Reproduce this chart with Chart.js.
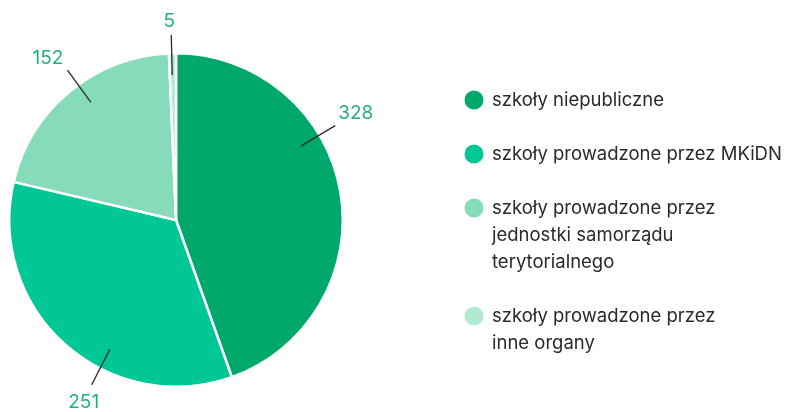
<!DOCTYPE html>
<html>
<head>
<meta charset="utf-8">
<script src="https://cdn.jsdelivr.net/npm/chart.js@4"></script>
<style>
  html, body { margin: 0; padding: 0; background: #fff; }
  #wrap { width: 785px; height: 412px; position: relative; }
</style>
</head>
<body>
<div id="wrap"><canvas id="chart" width="785" height="412"></canvas></div>
<script>
// Data
const categories = [
    ['szkoły niepubliczne'],
    ['szkoły prowadzone przez MKiDN'],
    ['szkoły prowadzone przez', 'jednostki samorządu', 'terytorialnego'],
    ['szkoły prowadzone przez', 'inne organy']
];
const values = [328, 251, 152, 5];
const colors = ['#00a86b', '#00c795', '#86dcba', '#b2e9d3'];

const FONT = 'Inter, "Noto Sans", sans-serif';

// Leader lines + value labels
const calloutPlugin = {
    id: 'callouts',
    afterDatasetsDraw(chart, args, opts) {
        const ctx = chart.ctx;
        const meta = chart.getDatasetMeta(0);
        ctx.save();
        meta.data.forEach((arc, i) => {
            const p = arc.getProps(['x', 'y', 'startAngle', 'endAngle', 'outerRadius'], true);
            const a = p.startAngle + (p.endAngle - p.startAngle) * opts.fractions[i];
            const dx = Math.cos(a), dy = Math.sin(a);
            const r1 = p.outerRadius * 0.87, r2 = p.outerRadius * 1.11;
            const ex = p.x + dx * r2, ey = p.y + dy * r2;
            ctx.strokeStyle = '#2b2b2b';
            ctx.lineWidth = 1.3;
            ctx.beginPath();
            ctx.moveTo(p.x + dx * r1, p.y + dy * r1);
            ctx.lineTo(ex, ey);
            ctx.stroke();

            const txt = String(values[i]);
            ctx.font = '19px ' + FONT;
            ctx.fillStyle = '#1db27c';
            ctx.textBaseline = 'middle';
            if (Math.abs(dx) > 0.5) {
                // side label
                ctx.textAlign = dx > 0 ? 'left' : 'right';
                ctx.fillText(txt, ex + (dx > 0 ? 3 : -4), ey - 12);
            } else if (dy > 0) {
                // below
                ctx.textAlign = 'center';
                ctx.fillText(txt, ex + 8 * Math.sign(dx), ey + 17);
            } else {
                // above
                ctx.textAlign = 'center';
                ctx.fillText(txt, ex - 2, ey - 14);
            }
        });
        ctx.restore();
    }
};

// Custom legend on the right with wrapped labels
const sideLegendPlugin = {
    id: 'sideLegend',
    afterDraw(chart, args, opts) {
        const ctx = chart.ctx;
        ctx.save();
        ctx.font = '18.5px ' + FONT;
        ctx.textBaseline = 'middle';
        ctx.textAlign = 'left';
        let y = opts.top;
        categories.forEach((lines, i) => {
            ctx.fillStyle = colors[i];
            ctx.beginPath();
            ctx.arc(opts.left, y, 9.5, 0, Math.PI * 2);
            ctx.fill();
            ctx.fillStyle = '#2a2a2a';
            lines.forEach((ln, j) => {
                ctx.fillText(ln, opts.left + 18, y + j * opts.lineHeight);
            });
            y += (lines.length - 1) * opts.lineHeight + opts.gap;
        });
        ctx.restore();
    }
};

new Chart(document.getElementById('chart'), {
    type: 'pie',
    data: {
        labels: categories,
        datasets: [{
            data: values,
            backgroundColor: colors,
            borderColor: '#ffffff',
            borderWidth: 2.5
        }]
    },
    options: {
        responsive: false,
        animation: false,
        layout: {
            padding: { left: 8, right: 441, top: 52, bottom: 24 }
        },
        plugins: {
            legend: { display: false },
            tooltip: { enabled: false },
            callouts: { fractions: [0.37, 0.38, 0.55, 0.4] },
            sideLegend: { left: 474, top: 100, lineHeight: 27, gap: 54 }
        }
    },
    plugins: [calloutPlugin, sideLegendPlugin]
});
</script>
</body>
</html>
